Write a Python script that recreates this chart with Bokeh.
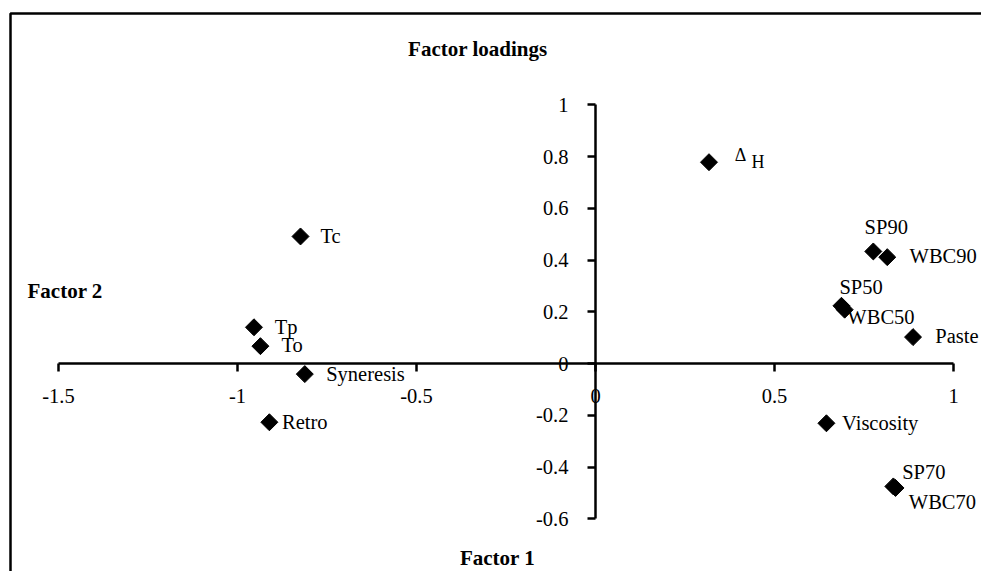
import numpy as np
from bokeh.plotting import figure
from bokeh.models import ColumnDataSource, Label, BoxAnnotation, FixedTicker, Range1d
from bokeh.core.properties import value
from bokeh.embed import file_html
from bokeh.resources import INLINE

# ---- data (factor loadings) ----
variables = ["ΔH", "SP90", "WBC90", "SP50", "WBC50", "Paste", "Viscosity",
             "SP70", "WBC70", "Tc", "Tp", "To", "Syneresis", "Retro"]
factor1 = [0.317, 0.776, 0.815, 0.687, 0.696, 0.887, 0.645,
           0.832, 0.838, -0.824, -0.954, -0.936, -0.812, -0.911]
factor2 = [0.778, 0.433, 0.411, 0.223, 0.208, 0.102, -0.231,
           -0.475, -0.481, 0.491, 0.140, 0.067, -0.041, -0.227]

x_ticks = [-1.5, -1, -0.5, 0, 0.5, 1]
x_tick_labels = ["-1.5", "-1", "-0.5", "0", "0.5", "1"]
y_ticks = [-0.6, -0.4, -0.2, 0, 0.2, 0.4, 0.6, 0.8, 1]
y_tick_labels = ["-0.6", "-0.4", "-0.2", "0", "0.2", "0.4", "0.6", "0.8", "1"]

# label placement offsets in pixels (layout only)
label_dx = [0, -8.7, 22.3, -2, 2.7, 22.3, 15.7, 8.8, 13.3, 20, 20.7, 21, 21.4, 12.7]
label_dy = [0, -24.3, -1, -18.6, 7.4, -1, 0, -14.2, 14.2, 0, -0.7, -0.7, 0.3, 0]

FONT = "Liberation Serif"
W, H = 981, 571

p = figure(width=W, height=H,
           x_range=Range1d(-1.66201, 1.07821), y_range=Range1d(-0.80386, 1.40290),
           output_backend="svg", toolbar_location=None, min_border=0,
           background_fill_color="white", border_fill_color="white")
p.outline_line_color = None
p.grid.visible = False

for ax, ticks, labs, bnds in ((p.xaxis[0], x_ticks, x_tick_labels, (-1.5, 1)),
                              (p.yaxis[0], y_ticks, y_tick_labels, (-0.6, 1))):
    ax.fixed_location = 0
    ax.bounds = bnds
    ax.ticker = FixedTicker(ticks=ticks)
    ax.major_label_overrides = dict(zip(ticks, labs))
    ax.axis_line_color = "black"
    ax.axis_line_width = 2.5
    ax.major_tick_line_color = "black"
    ax.major_tick_line_width = 2.5
    ax.major_tick_out = 8
    ax.major_tick_in = 0
    ax.minor_tick_line_color = None
    ax.major_label_text_font = FONT
    ax.major_label_text_font_size = "20.5px"
    ax.major_label_text_color = "black"
p.xaxis[0].major_label_standoff = 17
p.yaxis[0].major_label_standoff = 19

src = ColumnDataSource(dict(x=factor1, y=factor2, name=variables))
p.scatter("x", "y", source=src, marker="square", size=12, angle=np.pi / 4,
          fill_color="black", line_color="black")

# ordinary labels (all but ΔH)
lab_src = ColumnDataSource(dict(x=factor1[1:], y=factor2[1:], name=variables[1:],
                                dx=label_dx[1:], dy=label_dy[1:]))
p.text("x", "y", text="name", source=lab_src, x_offset="dx", y_offset="dy",
       text_font=value(FONT), text_font_size="20.5px", text_color="black",
       text_align="left", text_baseline="middle")

# ΔH label: raised Δ followed by H
dh_src = ColumnDataSource(dict(x=[factor1[0], factor1[0]], y=[factor2[0], factor2[0]],
                               t=[variables[0][0], variables[0][1:]],
                               dx=[25.7, 42.4], dy=[-7.0, 0.0]))
p.text("x", "y", text="t", source=dh_src, x_offset="dx", y_offset="dy",
       text_font=value(FONT), text_font_size="18px", text_color="black",
       text_align="left", text_baseline="middle")

# titles
p.add_layout(Label(x=407.6, y=H - 48, x_units="screen", y_units="screen",
                   text="Factor loadings", text_font=FONT, text_font_size="21px",
                   text_font_style="bold", text_color="black",
                   text_baseline="middle", text_align="left"))
p.add_layout(Label(x=27, y=H - 290, x_units="screen", y_units="screen",
                   text="Factor 2", text_font=FONT, text_font_size="21px",
                   text_font_style="bold", text_color="black",
                   text_baseline="middle", text_align="left"))
p.add_layout(Label(x=497, y=H - 557, x_units="screen", y_units="screen",
                   text="Factor 1", text_font=FONT, text_font_size="21px",
                   text_font_style="bold", text_color="black",
                   text_baseline="middle", text_align="center"))

# chart-area frame (runs off the right and bottom edges)
p.add_layout(BoxAnnotation(left=10, right=W + 40, top=H - 13, bottom=-40,
                           left_units="screen", right_units="screen",
                           top_units="screen", bottom_units="screen",
                           fill_alpha=0, line_color="black", line_alpha=1.0,
                           line_width=2.5, level="overlay"))

open("out.html", "w").write(file_html(p, INLINE))
